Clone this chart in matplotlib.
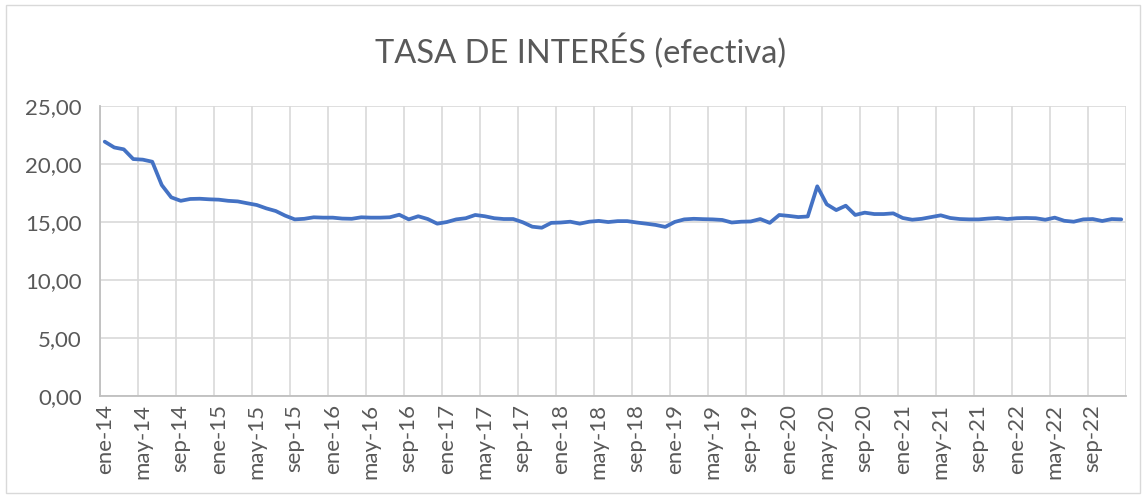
import matplotlib
matplotlib.use("Agg")
import matplotlib.pyplot as plt
from matplotlib.patches import Rectangle
from matplotlib.transforms import ScaledTranslation

title = "TASA DE INTERÉS (efectiva)"
months = ["ene", "feb", "mar", "abr", "may", "jun", "jul", "ago", "sep", "oct", "nov", "dic"]
years = list(range(14, 23))
categories = [f"{m}-{y}" for y in years for m in months]

values = [
    21.9, 21.4, 21.24, 20.4, 20.35, 20.17, 18.16, 17.1, 16.8, 16.96, 16.98, 16.93,
    16.9, 16.8, 16.75, 16.59, 16.44, 16.15, 15.92, 15.52, 15.2, 15.25, 15.38, 15.35,
    15.35, 15.27, 15.25, 15.38, 15.35, 15.35, 15.38, 15.6, 15.2, 15.47, 15.23, 14.83,
    14.97, 15.2, 15.3, 15.58, 15.47, 15.3, 15.23, 15.23, 14.95, 14.57, 14.48, 14.9,
    14.93, 15.0, 14.83, 15.0, 15.07, 14.97, 15.05, 15.05, 14.93, 14.83, 14.72, 14.55,
    14.98, 15.2, 15.25, 15.22, 15.2, 15.15, 14.93, 15.0, 15.02, 15.23, 14.9, 15.58,
    15.5, 15.4, 15.45, 18.05, 16.5, 16.0, 16.38, 15.58, 15.78, 15.66, 15.66, 15.72,
    15.32, 15.17, 15.25, 15.4, 15.55, 15.32, 15.23, 15.2, 15.2, 15.27, 15.32, 15.23,
    15.3, 15.32, 15.3, 15.17, 15.35, 15.08, 15.0, 15.2, 15.23, 15.06, 15.23, 15.2,
]
yticks = [0, 5, 10, 15, 20, 25]
ytick_labels = ["0,00", "5,00", "10,00", "15,00", "20,00", "25,00"]

FONT = ["Lato", "DejaVu Sans"]
TXT = "#595959"
GRID = "#D9D9D9"

plt.rcParams["font.family"] = FONT

fig = plt.figure(figsize=(11.46, 4.98), dpi=100)
fig.patches.append(Rectangle((6 / 1146, 5 / 498), 1134 / 1146, 488 / 498,
                             transform=fig.transFigure, fill=False,
                             edgecolor=GRID, linewidth=1.0))

ax = fig.add_axes([100 / 1146, 1 - 395.7 / 498, 1026 / 1146, (395.7 - 105.7) / 498])
x = list(range(len(values)))
ax.plot(x, values, color="#4472C4", linewidth=2.7, solid_capstyle="round",
        solid_joinstyle="round", zorder=3)

ax.set_xlim(-0.5, len(values) - 0.5)
ax.set_ylim(0, 25)
ax.set_yticks(yticks)
ax.set_yticklabels(ytick_labels)

tick_idx = list(range(0, len(values), 4))
ax.set_xticks(tick_idx)
ax.set_xticklabels([categories[i] for i in tick_idx], rotation=90)
offset = ScaledTranslation(3 / 100, 0, fig.dpi_scale_trans)
for lab in ax.get_xticklabels():
    lab.set_transform(lab.get_transform() + offset)
for b in range(0, len(values) + 1, 4):
    ax.axvline(b - 0.5, color=GRID, linewidth=1.2, zorder=1)
ax.yaxis.grid(True, color=GRID, linewidth=1.2, zorder=1)
ax.set_axisbelow(True)

for s in ["top", "right"]:
    ax.spines[s].set_visible(False)
ax.spines["left"].set_color("#BFBFBF")
ax.spines["bottom"].set_color("#BFBFBF")
ax.spines["left"].set_linewidth(1.3)
ax.spines["bottom"].set_linewidth(1.3)
ax.tick_params(axis="both", length=0, colors=TXT, labelsize=16)
ax.tick_params(axis="y", pad=13)
ax.tick_params(axis="x", pad=6)

fig.text(0.507, 1 - 51 / 498, title, ha="center", va="center", fontsize=23.5, color=TXT)

fig.savefig("out.png", dpi=100)
